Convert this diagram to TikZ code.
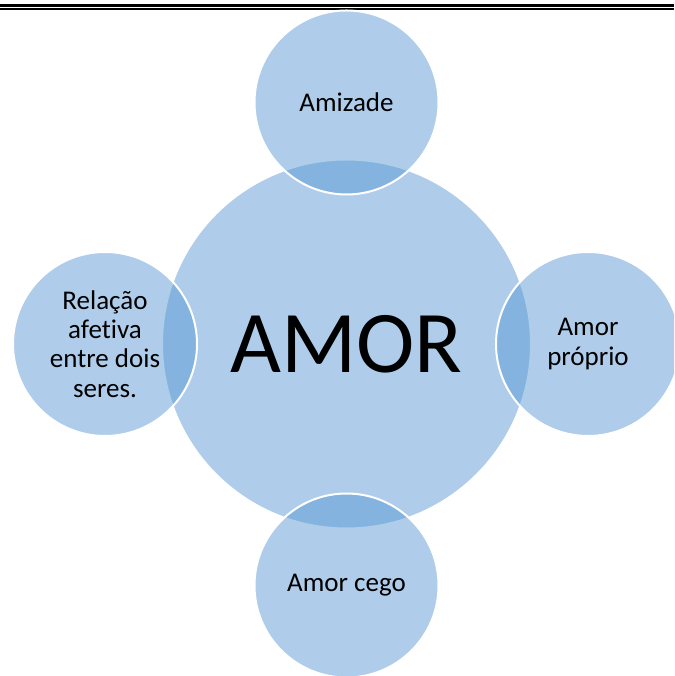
\documentclass[tikz,border=0pt]{standalone}
\usepackage{fontspec}
\setmainfont{Carlito}[Ligatures={NoCommon}]
\usetikzlibrary{positioning}

\definecolor{vennblue}{RGB}{87,151,211}

\begin{document}
\begin{tikzpicture}[
        x=1pt, y=1pt,
        node distance=-35pt,
        bubble/.style={circle, draw=white, line width=2pt, fill=vennblue, fill opacity=0.48, text opacity=1, inner sep=0pt, outer sep=0pt, align=center},
        hub/.style={bubble, minimum size=369pt, font=\fontsize{88}{100}\selectfont},
        sat/.style={bubble, minimum size=184pt, font=\fontsize{27}{29.3}\selectfont}
    ]

    \useasboundingbox (0,0) rectangle (674,676);
    \clip (0,0) rectangle (674,676);

    % double rule at the top
    \draw [line width=2.4pt] (0,670.5) -- (674,670.5);
    \draw [line width=1.4pt] (0,667.1) -- (674,667.1);

    \node (amor) [hub] at (346.5,332) {AMOR};
    \node (amizade) [sat, above=of amor] {Amizade};
    \node (proprio) [sat, right=of amor] {Amor\\próprio};
    \node (cego) [sat, below=of amor] {Amor cego};
    \node (relacao) [sat, left=of amor] {Relação\\afetiva\\entre dois\\seres.};

\end{tikzpicture}
\end{document}
